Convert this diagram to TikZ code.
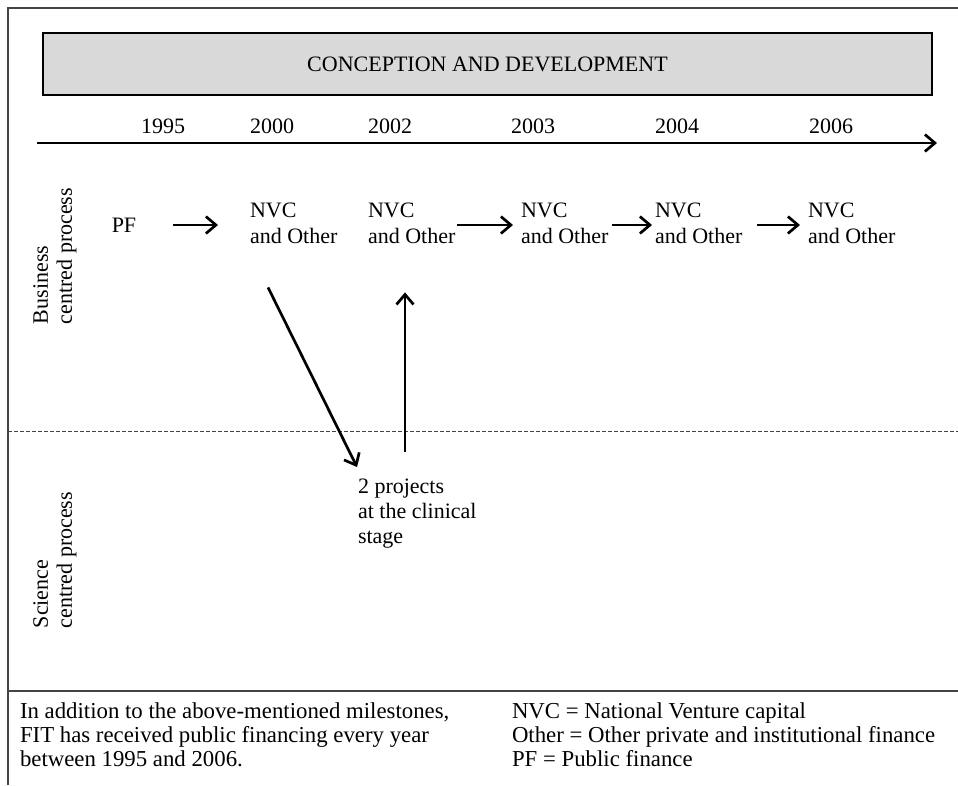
\documentclass[tikz,border=0pt]{standalone}
\usepackage{fontspec}
\setmainfont{Liberation Serif}
\usetikzlibrary{arrows.meta}
\definecolor{bandgrey}{HTML}{D9D9D9}
\definecolor{framegrey}{HTML}{444444}
\begin{document}
\begin{tikzpicture}[x=1pt,y=-1pt,
  every node/.style={inner sep=0pt, outer sep=0pt, font=\fontsize{22}{26}\selectfont},
  frameline/.style={draw=framegrey, line width=1.3pt},
  link/.style={-{Straight Barb[length=10pt,width=17pt,line width=2.7pt]}, line width=2.7pt},
  yearlbl/.style={anchor=center},
  fundbox/.style={align=left, anchor=west, font=\fontsize{22}{26}\selectfont},
  sidelbl/.style={rotate=90, align=left, font=\fontsize{22}{24}\selectfont},
  notetext/.style={align=left, anchor=north west, font=\fontsize{22.8}{24}\selectfont}]
\useasboundingbox (0,0) rectangle (958,785);

% outer frame and the rule above the notes
\draw[frameline] (8,785) -- (8,8) -- (958,8);
\draw[frameline] (8,691) -- (958,691);

% title band
\node[draw=black, line width=2.5pt, fill=bandgrey, anchor=north west,
      minimum width=889pt, minimum height=62pt] (band) at (43,33) {};
\node (title) at (band.center) {CONCEPTION AND DEVELOPMENT};

% time axis
\node[yearlbl] (y1995) at (163,126) {1995};
\node[yearlbl] (y2000) at (272,126) {2000};
\node[yearlbl] (y2002) at (390,126) {2002};
\node[yearlbl] (y2003) at (533,126) {2003};
\node[yearlbl] (y2004) at (677,126) {2004};
\node[yearlbl] (y2006) at (831,126) {2006};
\coordinate (axisstart) at (37,143);
\coordinate (axisend) at (937,143);
\draw[link] (axisstart) -- (axisend);

% split between the two processes
\coordinate (splitL) at (8,431);
\coordinate (splitR) at (958,431);
\draw[framegrey, line width=1pt, dash pattern=on 4pt off 2pt] (splitL) -- (splitR);

% side labels
\node[sidelbl] (business) at (55,256) {Business\\centred process};
\node[sidelbl] (science) at (55,560) {Science\\centred process};

% financing rounds
\node[anchor=center] (pf) at (124,225) {PF};
\node[fundbox] (nvc1) at (250,223) {NVC\\and Other};
\node[fundbox] (nvc2) at (368,223) {NVC\\and Other};
\node[fundbox] (nvc3) at (521,223) {NVC\\and Other};
\node[fundbox] (nvc4) at (655,223) {NVC\\and Other};
\node[fundbox] (nvc5) at (808,223) {NVC\\and Other};

\draw[link, shorten <=37pt, shorten >=32pt] (pf.east) -- (pf.east -| nvc1.west);
\draw[link, shorten <=2pt, shorten >=8pt] (nvc2.east |- pf.east) -- (pf.east -| nvc3.west);
\draw[link, shorten <=4pt, shorten >=3pt] (nvc3.east |- pf.east) -- (pf.east -| nvc4.west);
\draw[link, shorten <=15pt, shorten >=8pt] (nvc4.east |- pf.east) -- (pf.east -| nvc5.west);

% clinical stage
\node[notetext, font=\fontsize{22}{25}\selectfont] (proj) at (358,479) {2 projects\\at the clinical\\stage};

\draw[link] ([shift={(18,44)}]nvc1.south west) -- ([shift={(-1,-12)}]proj.north west);
\draw[link] ([shift={(47,-27)}]proj.north west) -- ([shift={(37,49)}]nvc2.south west);

% notes
\node[notetext] (note) at (20,703) {In addition to the above-mentioned milestones,\\FIT has received public financing every year\\between 1995 and 2006.};
\node[notetext] (legend) at (512,703) {NVC = National Venture capital\\Other = Other private and institutional finance\\PF = Public finance};
\end{tikzpicture}
\end{document}
